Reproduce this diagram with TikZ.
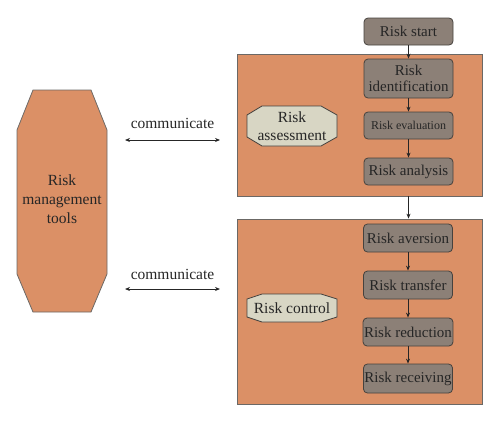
\documentclass[tikz,border=0pt]{standalone}
\usepackage{fontspec}
\setmainfont{Liberation Serif}
\usetikzlibrary{arrows.meta}
\definecolor{orangefill}{RGB}{219,144,102}
\definecolor{grayfill}{RGB}{140,128,119}
\definecolor{beigefill}{RGB}{216,214,196}
\definecolor{edgecol}{RGB}{70,66,62}
\begin{document}
\begin{tikzpicture}[x=1pt,y=-1pt,
  bigbox/.style={draw=edgecol!80,fill=orangefill,line width=0.8pt},
  stepbox/.style={draw=edgecol,fill=grayfill,rounded corners=4pt,line width=0.8pt,
    minimum width=89pt,inner sep=1pt,align=center,text=black!85,font=\fontsize{15}{16}\selectfont},
  octo/.style={draw=edgecol,fill=beigefill,line width=0.8pt},
  lbl/.style={align=center,text=black!85,font=\fontsize{15.5}{17}\selectfont},
  arr/.style={-{Stealth[length=5pt,width=4pt]},line width=0.8pt,black!85},
  darr/.style={{Stealth[length=5pt,width=4pt]}-{Stealth[length=5pt,width=4pt]},line width=0.8pt,black!85}]
\useasboundingbox (0,0) rectangle (500,423);
% big boxes
\node[bigbox,minimum width=245pt,minimum height=142pt,inner sep=0pt] (top) at (359.5,125) {};
\node[bigbox,minimum width=245pt,minimum height=185pt,inner sep=0pt] (bot) at (359.5,311.5) {};
% left tool shape
\draw[bigbox] (33,90) -- (91,90) -- (107,130) -- (107,274) -- (91,312) -- (33,312) -- (17,274) -- (17,130) -- cycle;
\node[lbl,font=\fontsize{15.5}{19}\selectfont] (tools) at (62,199) {Risk\\management\\tools};
% octagons
\draw[octo] (262,106) -- (321,106) -- (337,115) -- (337,137) -- (321,146) -- (262,146) -- (247,137) -- (247,115) -- cycle;
\node[lbl,font=\fontsize{15.5}{18}\selectfont] (assess) at (292,126) {Risk\\assessment};
\draw[octo] (262,294) -- (321,294) -- (337,299) -- (337,317) -- (321,322) -- (262,322) -- (247,317) -- (247,299) -- cycle;
\node[lbl] (control) at (292,308) {Risk control};
% steps
\node[stepbox,minimum height=27pt] (start) at (408.5,31.5) {Risk start};
\node[stepbox,minimum height=39pt] (ident) at (408.5,78.5) {Risk\\identification};
\node[stepbox,minimum height=27pt,font=\fontsize{12}{13}\selectfont] (eval) at (408.5,125.5) {Risk evaluation};
\node[stepbox,minimum height=27pt] (anal) at (408.5,171.5) {Risk analysis};
\node[stepbox,minimum height=28pt] (aver) at (408,238) {Risk aversion};
\node[stepbox,minimum height=28pt] (trans) at (408,285) {Risk transfer};
\node[stepbox,minimum height=28pt] (redu) at (408,332) {Risk reduction};
\node[stepbox,minimum height=29pt] (recv) at (408,378.5) {Risk receiving};
% arrows
\draw[arr] (start) -- (ident);
\draw[arr] (ident) -- (eval);
\draw[arr] (eval) -- (anal);
\draw[arr] (top.south -| anal.south) -- (bot.north -| anal.south);
\draw[arr] (aver) -- (trans);
\draw[arr] (trans) -- (redu);
\draw[arr] (redu) -- (recv);
% communicate
\coordinate (c1a) at (125,140);
\coordinate (c1b) at (220,140);
\coordinate (c2a) at (125,289);
\coordinate (c2b) at (220,289);
\draw[darr] (c1a) -- (c1b);
\draw[darr] (c2a) -- (c2b);
\node[lbl] (com1) at (172.5,123) {communicate};
\node[lbl] (com2) at (172.5,274) {communicate};
\end{tikzpicture}
\end{document}
